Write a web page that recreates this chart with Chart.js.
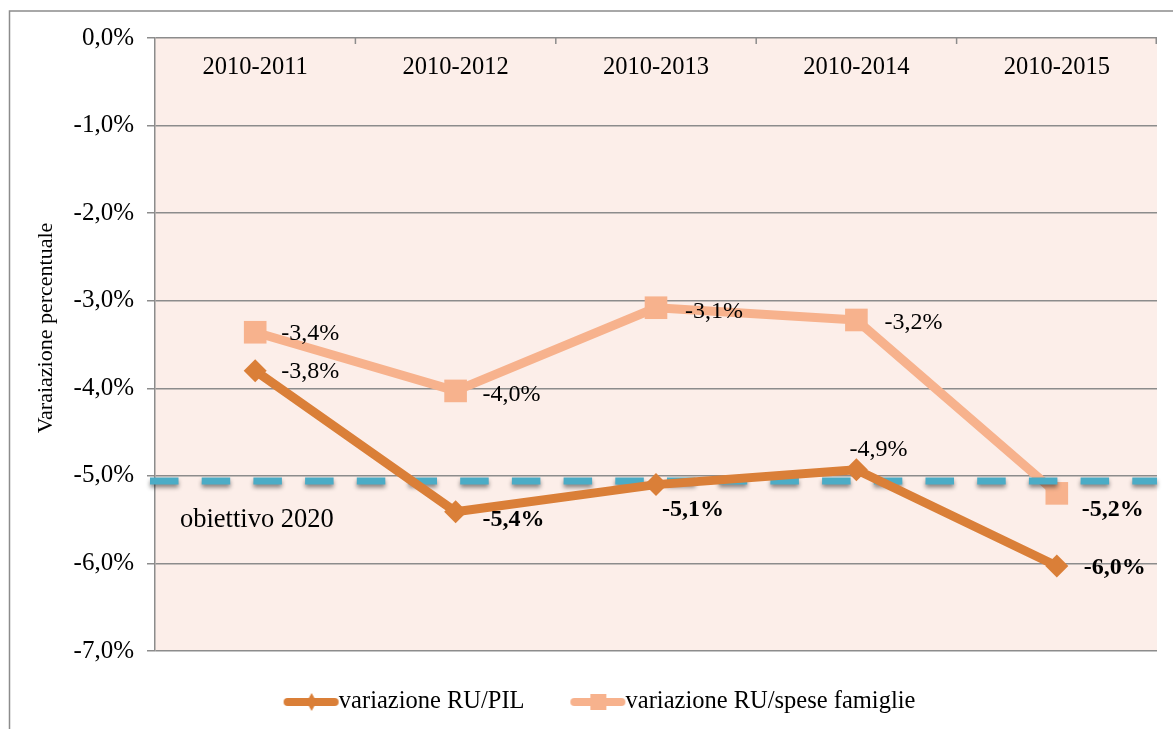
<!DOCTYPE html>
<html lang="it">
<head>
  <meta charset="UTF-8">
  <title>Variazione RU</title>
  <script src="https://cdn.jsdelivr.net/npm/chart.js@4.4.1/dist/chart.umd.min.js"></script>
  <style>
    body { margin: 0; background: #fff; }
    canvas { display: block; }
  </style>
</head>
<body>
  <canvas id="ruChart" width="1173" height="729"></canvas>

  <script>
    // Dati
    const periodi = ['2010-2011', '2010-2012', '2010-2013', '2010-2014', '2010-2015'];
    const variazionePil = [-3.8, -5.41, -5.1, -4.93, -6.03];
    const variazioneSpese = [-3.36, -4.03, -3.08, -3.22, -5.2];
    const obiettivo2020 = -5.06;
    const yTicks = [0, -1, -2, -3, -4, -5, -6, -7];

    // Posizione delle etichette rispetto al punto [dx, dy] e grassetto
    const offsetPil = [[26, 1], [27, 8], [6, 25], [-7, -20], [27, 2]];
    const boldPil = [false, true, true, false, true];
    const offsetSpese = [[26, 1], [27, 4], [29, 4], [28, 3], [25, 16]];
    const boldSpese = [false, false, false, false, true];

    const scuro = '#DA7F38';
    const chiaro = '#F7B28D';
    const serif = "'Liberation Serif', 'DejaVu Serif', serif";

    const fmt = v => v.toFixed(1).replace('.', ',') + '%';

    // Simbolo della legenda: linea spessa con marcatore
    function legendSymbol(color, shape) {
      const c = document.createElement('canvas');
      c.width = 76; c.height = 20;
      const g = c.getContext('2d');
      g.strokeStyle = color;
      g.lineWidth = 8;
      g.lineCap = 'round';
      g.beginPath(); g.moveTo(24, 10); g.lineTo(71, 10); g.stroke();
      g.fillStyle = color;
      g.beginPath();
      if (shape === 'diamond') {
        g.moveTo(48, 1); g.lineTo(53, 10); g.lineTo(48, 19); g.lineTo(43, 10);
      } else {
        g.rect(40, 2, 16, 16);
      }
      g.closePath(); g.fill();
      return c;
    }
    const symbols = [legendSymbol(scuro, 'diamond'), legendSymbol(chiaro, 'square')];

    const decorPlugin = {
      id: 'decor',
      beforeDraw(chart) {
        const { ctx, chartArea: a } = chart;
        ctx.save();
        // cornice esterna
        ctx.strokeStyle = '#8c8c8c';
        ctx.lineWidth = 1.5;
        ctx.strokeRect(9.5, 11, 1300, 900);
        // sfondo dell'area del grafico
        ctx.fillStyle = '#FCEEE9';
        ctx.fillRect(a.left, a.top, a.right - a.left, a.bottom - a.top);
        ctx.restore();
      },
      afterDatasetDraw(chart, args) {
        if (args.index !== 1) return;
        // linea obiettivo 2020 tra le due serie
        const { ctx, chartArea: a } = chart;
        const y = chart.scales.y.getPixelForValue(obiettivo2020);
        ctx.save();
        ctx.strokeStyle = '#4BACC6';
        ctx.lineWidth = 7;
        ctx.setLineDash([28.5, 23.2]);
        ctx.shadowColor = 'rgba(0,0,0,0.45)';
        ctx.shadowBlur = 4;
        ctx.shadowOffsetY = 3;
        ctx.beginPath();
        ctx.moveTo(a.left - 5, y);
        ctx.lineTo(a.right, y);
        ctx.stroke();
        ctx.restore();

        ctx.save();
        ctx.fillStyle = '#000';
        ctx.font = '26.5px ' + serif;
        ctx.textBaseline = 'middle';
        ctx.fillText('obiettivo 2020', a.left + 25, y + 39);
        ctx.restore();
      },
      afterDatasetsDraw(chart) {
        const { ctx, chartArea: a } = chart;
        const xs = chart.scales.x;
        ctx.save();
        // etichette delle categorie dentro l'area
        ctx.fillStyle = '#000';
        ctx.font = '24.5px ' + serif;
        ctx.textAlign = 'center';
        ctx.textBaseline = 'middle';
        periodi.forEach((p, i) => ctx.fillText(p, xs.getPixelForValue(i), a.top + 30));
        // piccole tacche in alto
        ctx.strokeStyle = '#8c8c8c';
        ctx.lineWidth = 1.5;
        for (let i = 1; i <= periodi.length; i++) {
          const x = i < periodi.length
            ? (xs.getPixelForValue(i - 1) + xs.getPixelForValue(i)) / 2
            : a.right - 0.75;
          ctx.beginPath(); ctx.moveTo(x, a.top); ctx.lineTo(x, a.top + 6); ctx.stroke();
        }
        // etichette dei valori
        ctx.textAlign = 'left';
        const series = [
          { data: variazionePil, off: offsetPil, bold: boldPil, meta: chart.getDatasetMeta(0) },
          { data: variazioneSpese, off: offsetSpese, bold: boldSpese, meta: chart.getDatasetMeta(1) }
        ];
        series.forEach(s => {
          s.meta.data.forEach((pt, i) => {
            ctx.font = (s.bold[i] ? 'bold ' : '') + '24px ' + serif;
            ctx.fillText(fmt(s.data[i]), pt.x + s.off[i][0], pt.y + s.off[i][1]);
          });
        });
        ctx.restore();
      }
    };

    new Chart(document.getElementById('ruChart'), {
      type: 'line',
      data: {
        labels: periodi,
        datasets: [
          {
            label: 'variazione RU/PIL',
            data: variazionePil,
            borderColor: scuro,
            backgroundColor: scuro,
            borderWidth: 9,
            borderJoinStyle: 'round',
            borderCapStyle: 'round',
            pointStyle: 'rectRot',
            pointRadius: 11.5,
            pointBorderWidth: 0,
            pointBackgroundColor: scuro,
            order: 0
          },
          {
            label: 'variazione RU/spese famiglie',
            data: variazioneSpese,
            borderColor: chiaro,
            backgroundColor: chiaro,
            borderWidth: 9,
            borderJoinStyle: 'round',
            borderCapStyle: 'round',
            pointStyle: 'rect',
            pointRadius: 16,
            pointBorderWidth: 0,
            pointBackgroundColor: chiaro,
            order: 1
          }
        ]
      },
      options: {
        responsive: false,
        animation: false,
        devicePixelRatio: 1,
        layout: { padding: { left: 30, top: 38, right: 11, bottom: 4.75 } },
        plugins: {
          tooltip: { enabled: false },
          legend: {
            position: 'bottom',
            labels: {
              usePointStyle: true,
              pointStyleWidth: 50,
              padding: 38.75,
              color: '#000',
              font: { family: serif, size: 24.5 },
              generateLabels(chart) {
                const items = Chart.defaults.plugins.legend.labels.generateLabels(chart);
                items.forEach((it, i) => { it.pointStyle = symbols[i]; });
                return items;
              }
            }
          }
        },
        scales: {
          x: {
            position: 'top',
            offset: true,
            ticks: { display: false },
            grid: { display: false },
            border: { display: false },
            afterFit(scale) { scale.height = 0; }
          },
          y: {
            min: -7,
            max: 0,
            afterBuildTicks(scale) { scale.ticks = yTicks.map(v => ({ value: v })); },
            ticks: {
              color: '#000',
              padding: 13,
              font: { family: serif, size: 25 },
              callback: v => fmt(v)
            },
            grid: { color: '#8c8c8c', lineWidth: 1.5, tickLength: 8 },
            border: { color: '#8c8c8c', width: 1.5 },
            title: {
              display: true,
              // spazi iniziali per alzare il titolo come nell'originale
              text: '\u00a0'.repeat(6) + 'Varaiazione percentuale',
              color: '#000',
              font: { family: serif, size: 22 },
              padding: { top: 3, bottom: 0 }
            },
            afterFit(scale) { scale.width = 125; }
          }
        }
      },
      plugins: [decorPlugin]
    });
  </script>
</body>
</html>
